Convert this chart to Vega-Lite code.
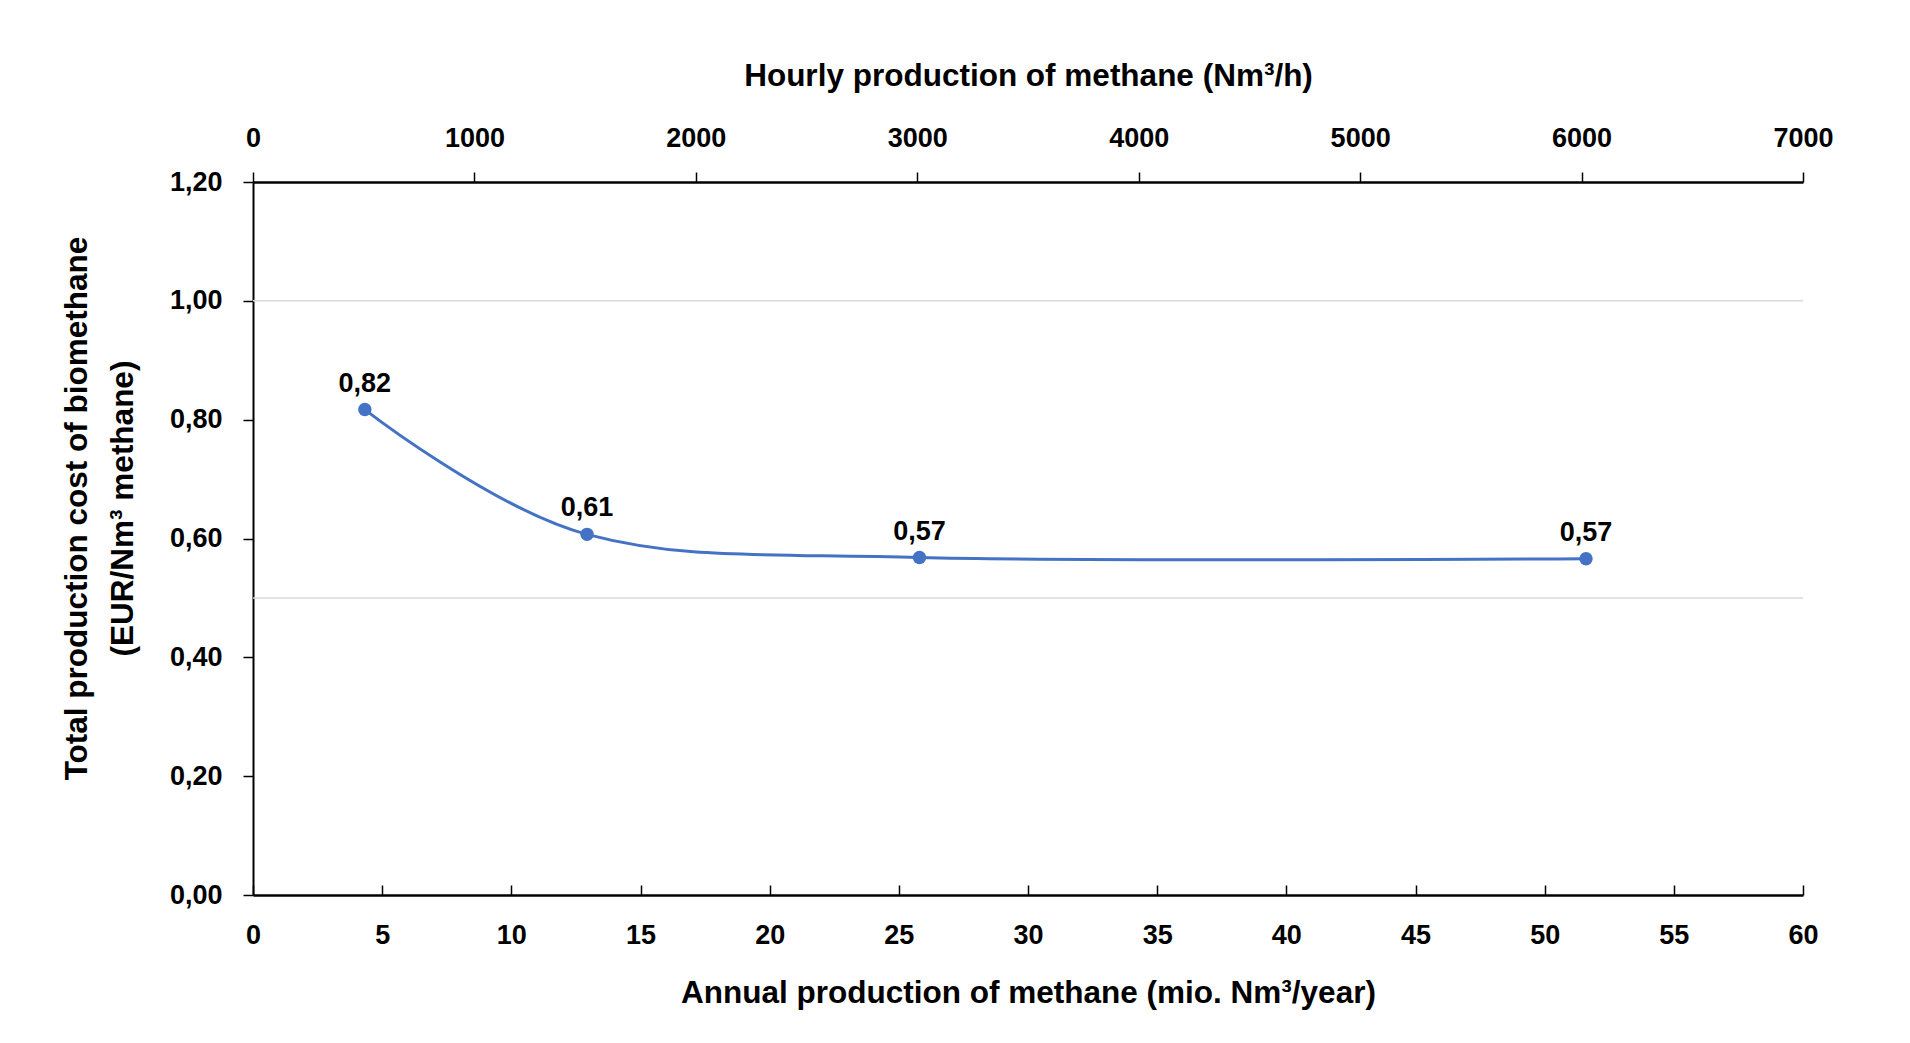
{
  "$schema": "https://vega.github.io/schema/vega-lite/v6.json",
  "width": 1550,
  "height": 713,
  "autosize": "none",
  "padding": {"left": 253, "top": 182, "right": 107, "bottom": 148},
  "background": "white",
  "datasets": {
    "cost": [
      {"annual": 4.33, "hourly": 500, "cost": 0.817},
      {"annual": 12.93, "hourly": 1500, "cost": 0.607},
      {"annual": 25.8, "hourly": 3000, "cost": 0.568},
      {"annual": 51.6, "hourly": 6000, "cost": 0.566}
    ],
    "grid": [{"level": 0.5}, {"level": 1.0}]
  },
  "config": {
    "view": {"stroke": null},
    "locale": {"number": {"decimal": ",", "thousands": ".", "grouping": [3], "currency": ["", " €"]}},
    "axis": {
      "labelFont": "Liberation Sans",
      "labelFontSize": 27,
      "labelFontWeight": "bold",
      "labelColor": "#000000",
      "titleFont": "Liberation Sans",
      "titleFontSize": 31.5,
      "titleFontWeight": "bold",
      "titleColor": "#000000",
      "tickColor": "#000000",
      "domainColor": "#000000",
      "tickWidth": 1.5,
      "grid": false,
      "labelFlush": false,
      "labelOverlap": false
    }
  },
  "layer": [
    {
      "data": {"name": "grid"},
      "mark": {"type": "rule", "color": "#d9d9d9", "strokeWidth": 1.5},
      "encoding": {
        "y": {"field": "level", "type": "quantitative", "scale": {"domain": [0, 1.2], "nice": false}}
      }
    },
    {
      "data": {"name": "cost"},
      "encoding": {
        "x": {
          "field": "annual",
          "type": "quantitative",
          "scale": {"domain": [0, 60], "nice": false},
          "axis": {
            "orient": "bottom",
            "title": "Annual production of methane (mio. Nm³/year)",
            "values": [0, 5, 10, 15, 20, 25, 30, 35, 40, 45, 50, 55, 60],
            "format": "d",
            "tickSize": -10,
            "labelPadding": 37,
            "titlePadding": 29,
            "domainWidth": 2.5
          }
        },
        "y": {
          "field": "cost",
          "type": "quantitative",
          "scale": {"domain": [0, 1.2], "nice": false},
          "axis": {
            "title": ["Total production cost of biomethane", "(EUR/Nm³ methane)"],
            "values": [0, 0.2, 0.4, 0.6, 0.8, 1.0, 1.2],
            "format": ".2f",
            "tickSize": 10,
            "labelPadding": 21,
            "titlePadding": 30,
            "titleLineHeight": 46,
            "titleY": 326,
            "domainWidth": 2
          }
        }
      },
      "layer": [
        {"mark": {"type": "line", "interpolate": "cardinal", "color": "#4472C4", "strokeWidth": 3}},
        {"mark": {"type": "circle", "color": "#4472C4", "size": 180, "opacity": 1}},
        {
          "mark": {"type": "text", "font": "Liberation Sans", "fontSize": 27, "fontWeight": "bold", "color": "#000000", "baseline": "alphabetic", "dy": -18},
          "encoding": {"text": {"field": "cost", "type": "quantitative", "format": ".2f"}}
        }
      ]
    },
    {
      "data": {"name": "cost"},
      "mark": {"type": "point", "opacity": 0},
      "encoding": {
        "x": {
          "field": "hourly",
          "type": "quantitative",
          "scale": {"domain": [0, 7000], "nice": false},
          "axis": {
            "orient": "top",
            "title": "Hourly production of methane (Nm³/h)",
            "values": [0, 1000, 2000, 3000, 4000, 5000, 6000, 7000],
            "format": "d",
            "tickSize": 10,
            "labelPadding": 20,
            "titlePadding": 32,
            "domainWidth": 2.5
          }
        },
        "y": {"field": "cost", "type": "quantitative"}
      }
    }
  ],
  "resolve": {"scale": {"x": "independent"}}
}
